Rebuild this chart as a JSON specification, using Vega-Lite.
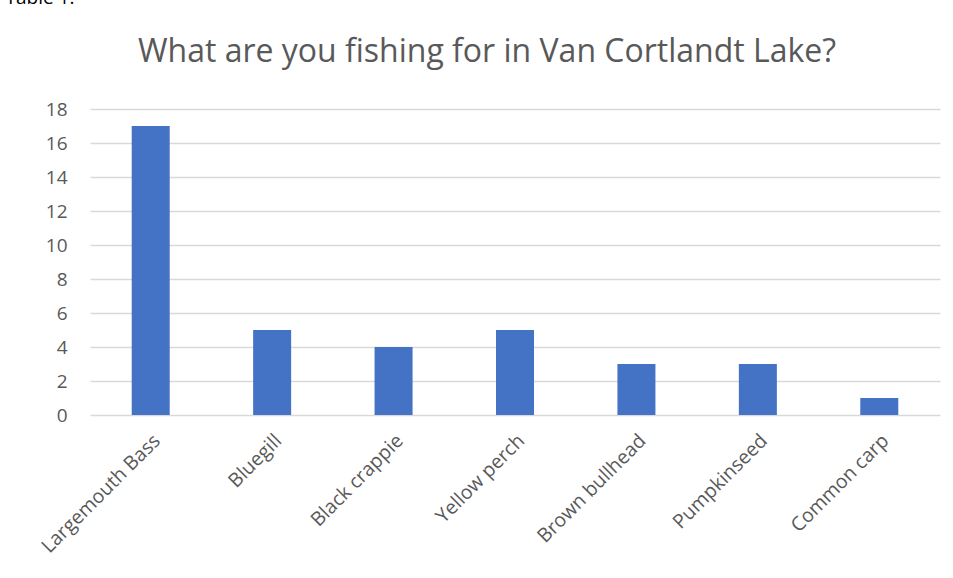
{
  "$schema": "https://vega.github.io/schema/vega-lite/v6.json",
  "width": 850,
  "height": 306,
  "autosize": {"type": "none"},
  "padding": {"top": 109, "left": 90, "right": 13, "bottom": 163},
  "background": "white",
  "title": {
    "text": "What are you fishing for in Van Cortlandt Lake?",
    "anchor": "middle",
    "dx": -28,
    "offset": 0,
    "dy": 106,
    "fontSize": 32,
    "font": "Open Sans",
    "fontWeight": "normal",
    "color": "#595959",
    "baseline": "alphabetic"
  },
  "data": {
    "values": [
      {"species": "Largemouth Bass", "count": 17},
      {"species": "Bluegill", "count": 5},
      {"species": "Black crappie", "count": 4},
      {"species": "Yellow perch", "count": 5},
      {"species": "Brown bullhead", "count": 3},
      {"species": "Pumpkinseed", "count": 3},
      {"species": "Common carp", "count": 1}
    ]
  },
  "mark": {"type": "bar", "color": "#4472C4"},
  "encoding": {
    "x": {
      "field": "species",
      "type": "nominal",
      "sort": null,
      "scale": {"paddingInner": 0.687, "paddingOuter": 0.3435},
      "axis": {
        "title": null,
        "labelAngle": -45,
        "labelFont": "Open Sans",
        "labelFontSize": 19.5,
        "labelColor": "#595959",
        "labelPadding": 16,
        "ticks": false,
        "domain": false,
        "grid": false
      }
    },
    "y": {
      "field": "count",
      "type": "quantitative",
      "scale": {"domain": [0, 18], "nice": false},
      "axis": {
        "values": [0, 2, 4, 6, 8, 10, 12, 14, 16, 18],
        "title": "Table 1:",
        "titleAngle": 0,
        "titleAlign": "left",
        "titleBaseline": "alphabetic",
        "titleX": -85,
        "titleY": -106,
        "titleFont": "Open Sans",
        "titleFontSize": 19,
        "titleFontWeight": "normal",
        "titleColor": "#000000",
        "labelFont": "Open Sans",
        "labelFontSize": 19,
        "labelColor": "#595959",
        "labelPadding": 23,
        "ticks": false,
        "domain": false,
        "grid": true,
        "gridColor": "#d9d9d9",
        "gridWidth": 1.3
      }
    }
  },
  "config": {"view": {"stroke": null}}
}
